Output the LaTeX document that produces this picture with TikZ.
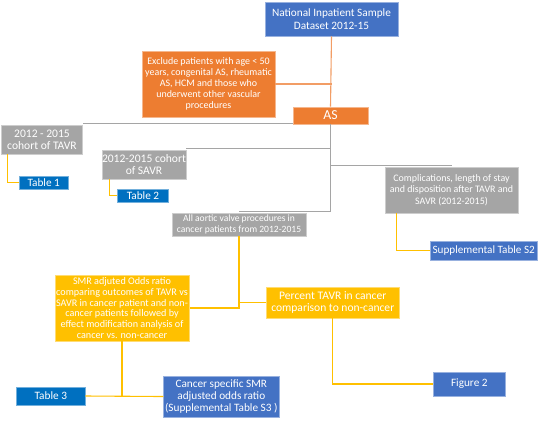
\documentclass[tikz,border=0pt]{standalone}
\usepackage{fontspec}
\setmainfont{Carlito}
\usetikzlibrary{calc,positioning}
\definecolor{nisblue}{HTML}{4472C4}
\definecolor{tabblue}{HTML}{0070C0}
\definecolor{asorange}{HTML}{ED7D31}
\definecolor{boxgrey}{HTML}{A5A5A5}
\definecolor{gold}{HTML}{FFC000}
\newcommand{\fs}[2]{\fontsize{#1}{#2}\selectfont}

\begin{document}
\begin{tikzpicture}[x=1bp,y=-1bp,inner sep=0pt,
  box/.style={align=center,text=white,line width=0.6bp},
  bluebox/.style={box,fill=nisblue,draw=nisblue!55!white},
  tabbox/.style={box,fill=tabblue,draw=tabblue!55!white},
  orangebox/.style={box,fill=asorange,draw=asorange!55!white},
  greybox/.style={box,fill=boxgrey,draw=boxgrey!55!white},
  goldbox/.style={box,fill=gold,draw=gold!55!white},
  orangeline/.style={draw=asorange!75!white,line width=1.1bp},
  greyline/.style={draw=boxgrey,line width=1.1bp},
  goldline/.style={draw=gold,line width=1.1bp}]
\useasboundingbox (0,0) rectangle (540,420);
\fill[white] (0,0) rectangle (540,420);

% top part
\node[bluebox,minimum width=133bp,minimum height=34bp,font=\fs{11.3}{12.7}] (nis) at (331.5,19)
  {National Inpatient Sample\\Dataset 2012-15};
\node[orangebox,minimum width=133bp,minimum height=66bp,font=\fs{10}{11}] (excl) at (208.5,84)
  {Exclude patients with age < 50\\years, congenital AS, rheumatic\\AS, HCM and those who\\underwent other vascular\\procedures};
\node[orangebox,minimum width=75bp,minimum height=17bp,font=\fs{13.8}{14}] (as) at (330.5,115.5) {AS};

% cohorts
\node[greybox,minimum width=81bp,minimum height=29bp,font=\fs{11.6}{12.3}] (tavr) at (42,139.5)
  {2012 - 2015\\cohort of TAVR};
\node[tabbox,minimum width=49.5bp,minimum height=13bp,font=\fs{11.3}{11}] (tab1) at (43.7,182.5) {Table 1};
\node[greybox,minimum width=84bp,minimum height=29bp,font=\fs{11.6}{12.3}] (savr) at (144,164.5)
  {2012-2015 cohort\\of SAVR};
\node[tabbox,minimum width=51.4bp,minimum height=13bp,font=\fs{11.3}{11}] (tab2) at (143,195.5) {Table 2};
\node[greybox,minimum width=133bp,minimum height=46bp,font=\fs{10}{11.5}] (comp) at (451.5,190)
  {Complications, length of stay\\and disposition after TAVR and\\SAVR (2012-2015)};
\node[bluebox,minimum width=106.5bp,minimum height=19bp,font=\fs{11.2}{11}] (s2) at (483.7,250.5)
  {Supplemental Table S2};
\node[greybox,minimum width=134bp,minimum height=23bp,font=\fs{9.6}{11.7}] (allav) at (239,224.5)
  {All aortic valve procedures in\\cancer patients from 2012-2015};

% cancer analyses
\node[goldbox,minimum width=134.4bp,minimum height=66bp,font=\fs{10.2}{11}] (smr) at (122,308)
  {SMR adjuted Odds ratio\\comparing outcomes of TAVR vs\\SAVR in cancer patient and non-\\cancer patients followed by\\effect modification analysis of\\cancer vs. non-cancer};
\node[goldbox,minimum width=133.5bp,minimum height=31bp,font=\fs{11.6}{12.7}] (pct) at (332.8,302.5)
  {Percent TAVR in cancer\\comparison to non-cancer};
\node[tabbox,minimum width=68.5bp,minimum height=18bp,font=\fs{11.3}{11}] (tab3) at (50.8,396) {Table 3};
\node[bluebox,minimum width=115.4bp,minimum height=41bp,font=\fs{11.3}{12.5}] (canc) at (221.3,396.5)
  {Cancer specific SMR\\adjusted odds ratio\\(Supplemental Table S3 )};
\node[bluebox,minimum width=72.6bp,minimum height=24bp,font=\fs{11.3}{11}] (fig2) at (469.3,384) {Figure 2};

\draw[orangeline] (nis.south) -- (as.north);
\draw[orangeline] (excl.east) -- (excl.east -| nis.south);

\draw[greyline] (as.south) |- ([yshift=1bp]allav.north);
\draw[greyline] ([yshift=0.5bp]as.south west) -- ([yshift=0.5bp]as.south west -| tavr.north east);
\draw[greyline] ([yshift=1.5bp]savr.north east) -- ([yshift=1.5bp]savr.north east -| as.south);
\draw[greyline] ([yshift=1bp]comp.north) -- ([yshift=1bp]comp.north -| as.south);

\draw[goldline] ([xshift=6.6bp]tavr.south west) |- (tab1.west);
\draw[goldline] ([xshift=8bp]savr.south west) |- (tab2.west);
\draw[goldline] ([xshift=12bp]comp.south west) |- (s2.west);
\draw[goldline] (allav.south) |- (smr.east);
\draw[goldline] (pct.west) -- (pct.west -| allav.south);
\draw[goldline] (smr.south) -- (smr.south |- tab3.east);
\draw[goldline] (tab3.east) -- (canc.west);
\draw[goldline] (pct.south) |- (fig2.west);
\end{tikzpicture}
\end{document}
